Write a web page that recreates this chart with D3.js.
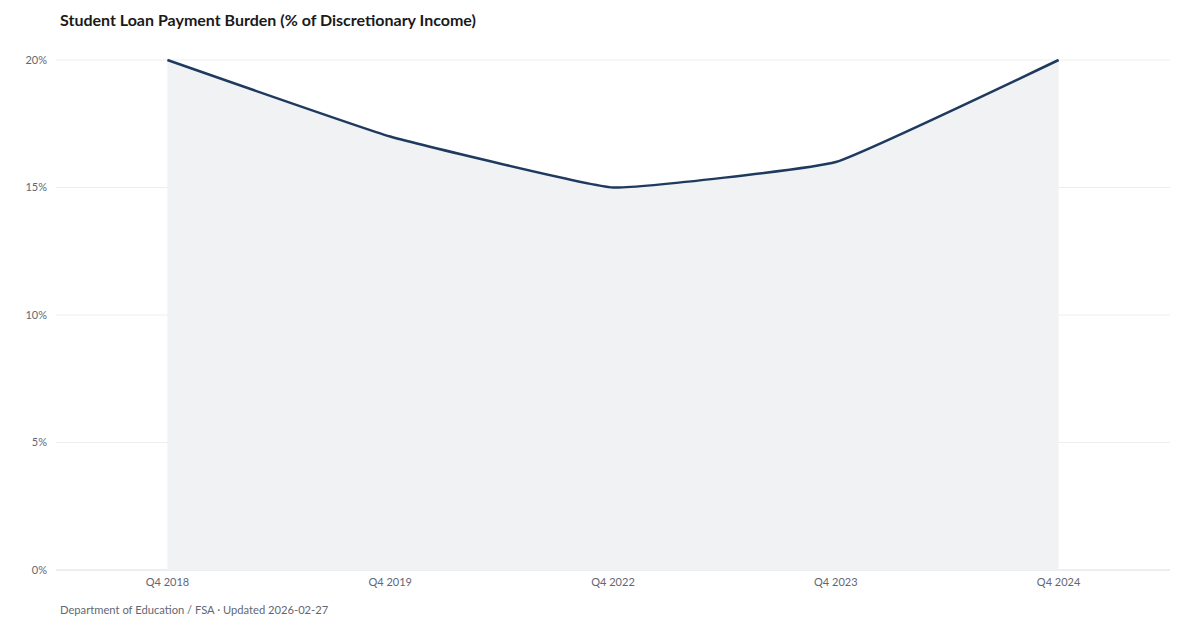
<!DOCTYPE html>
<html><head><meta charset="utf-8">
<script src="https://cdn.jsdelivr.net/npm/d3@7/dist/d3.min.js"></script>
<style>
body{margin:0;background:#fff;}
svg{display:block;font-family:Lato,"Open Sans",sans-serif;}
</style></head>
<body>
<svg id="chart" width="1200" height="630"></svg>
<script>
const categories = ["Q4 2018","Q4 2019","Q4 2022","Q4 2023","Q4 2024"];
const values = [20, 17, 15, 16, 20];
const yTicks = [0, 5, 10, 15, 20];
const title = "Student Loan Payment Burden (% of Discretionary Income)";
const source = "Department of Education / FSA · Updated 2026-02-27";

const svg = d3.select("#chart");
const m = {left:56, right:30, top:60, bottom:60};
const W = 1200, H = 630;
const x = d3.scalePoint().domain(categories).range([m.left, W - m.right]).padding(0.5);
const y = d3.scaleLinear().domain([0, 20]).range([H - m.bottom, m.top]);

svg.append("text").attr("x", 60).attr("y", 26)
  .attr("font-size", 16).attr("font-weight", 700).attr("fill", "#1a1a1a").text(title);

// gridlines
svg.append("g").selectAll("line").data(yTicks).join("line")
  .attr("x1", m.left).attr("x2", W - m.right)
  .attr("y1", d => y(d)).attr("y2", d => y(d))
  .attr("stroke", d => d === 0 ? "#dcdde3" : "#eeeef0").attr("stroke-width", 1);

// y labels
svg.append("g").selectAll("text").data(yTicks).join("text")
  .attr("x", 47).attr("y", d => y(d)).attr("dy", "0.35em")
  .attr("text-anchor", "end").attr("font-size", 11).attr("fill", "#636775")
  .text(d => d + "%");

// x labels
svg.append("g").selectAll("text").data(categories).join("text")
  .attr("x", d => x(d)).attr("y", 586)
  .attr("text-anchor", "middle").attr("font-size", 11).attr("fill", "#636775")
  .text(d => d);

const data = categories.map((c, i) => ({c, v: values[i]}));
const curve = d3.curveCardinal.tension(0.7);
const area = d3.area().x(d => x(d.c)).y0(y(0)).y1(d => y(d.v)).curve(curve);
const line = d3.line().x(d => x(d.c)).y(d => y(d.v)).curve(curve);

svg.append("path").datum(data).attr("d", area).attr("fill", "#f1f2f4");
svg.append("path").datum(data).attr("d", line).attr("fill", "none")
  .attr("stroke", "#1f3a5f").attr("stroke-width", 2.5).attr("stroke-linejoin", "round");

svg.append("text").attr("x", 60).attr("y", 614)
  .attr("font-size", 11.2).attr("fill", "#636775").text(source);
</script>
</body></html>
